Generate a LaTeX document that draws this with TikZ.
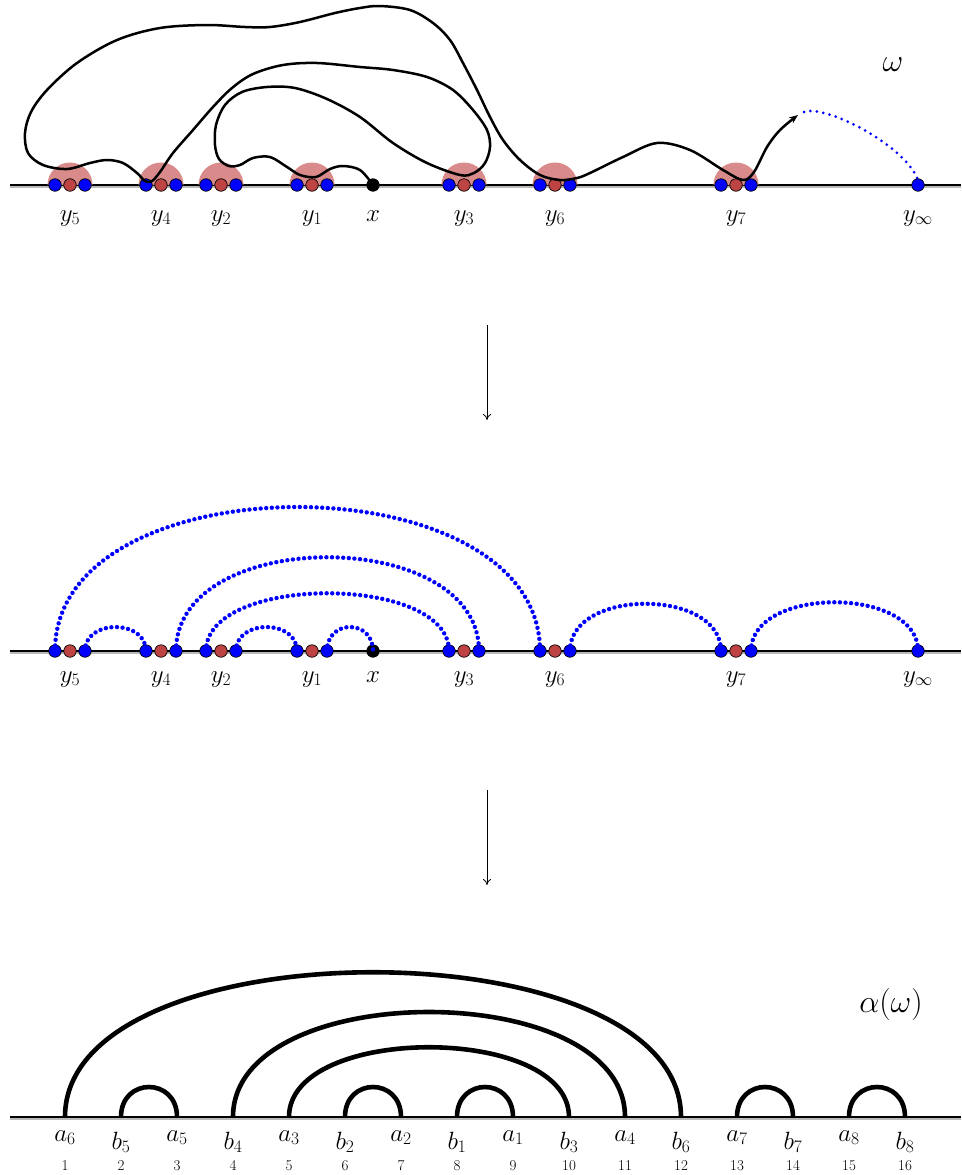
\RequirePackage{fix-cm}
\documentclass[tikz,border=0pt]{standalone}
\usetikzlibrary{arrows.meta}
\definecolor{dotred}{RGB}{190,68,68}
\definecolor{halo}{RGB}{217,139,139}
\definecolor{shadowgray}{RGB}{185,185,185}
\begin{document}
\begin{tikzpicture}[x=1pt,y=-1pt,
  bdot/.style={circle,draw=black,line width=0.7pt,fill=blue,inner sep=0pt,minimum size=12.5pt},
  rdot/.style={bdot,fill=dotred},
  kdot/.style={bdot,fill=black},
  lbl/.style={anchor=base,inner sep=0pt,font=\fontsize{25}{30}\selectfont},
  numlbl/.style={anchor=base,inner sep=0pt,font=\fontsize{15}{18}\selectfont},
  biglbl/.style={anchor=base,inner sep=0pt,font=\fontsize{32}{38}\selectfont},
  bluedots/.style={blue,line width=4.4pt,line cap=round,dash pattern=on 0pt off 5.6pt},
  taildots/.style={blue,line width=3pt,line cap=round,dash pattern=on 0pt off 6.5pt},
  curvepath/.style={line width=2.5pt,line join=round},
  chord/.style={line width=4.6pt},
  flowarrow/.style={line width=0.8pt,-{To[length=6pt,width=8pt]}}]
\useasboundingbox (0,0) rectangle (961,1175);

% ---------- baselines ----------
\foreach \yy in {185,651,1117}{
  \draw[shadowgray,line width=2.8pt] (10,\yy+1.5) -- (961,\yy+1.5);
  \draw[line width=1.1pt] (10,\yy) -- (961,\yy);
}

% ---------- top section ----------
\foreach \k/\px in {5/70,4/161,2/221,1/312,3/464,6/555,7/736}{
  \fill[halo] (\px-22.5,185) arc[start angle=180,end angle=360,radius=22.5];
}
\draw[taildots] (804,112) .. controls (825,104) and (905,145) .. (918,180);
\foreach \k/\px in {5/70,4/161,2/221,1/312,3/464,6/555,7/736}{
  \node[bdot] (tL\k) at (\px-15,185) {};
  \node[rdot] (tM\k) at (\px,185) {};
  \node[bdot] (tR\k) at (\px+15,185) {};
  \node[lbl] (ty\k) at (\px,221) {$y_{\k}$};
}
\node[kdot] (tx) at (373,185) {};
\node[lbl] (txl) at (373,221) {$x$};
\node[bdot] (tinf) at (918,185) {};
\node[lbl] (tinfl) at (918,221) {$y_\infty$};
\node[biglbl] (omega) at (893,71) {$\omega$};

\draw[curvepath,-{Stealth[length=9pt,width=7pt]}] plot[smooth,tension=0.55] coordinates {
 (373,185) (360,170) (343,166) (330,169) (316,177) (300,175) (287,167) (270,157)
 (253,158) (240,165) (229,166) (219,159) (215,145) (216,125) (225,105) (242,92)
 (267,87) (295,88) (327,99) (360,117) (393,143) (427,163) (460,175) (474,173)
 (485,163) (490,147) (487,130) (473,110) (453,90) (427,77) (393,70) (360,67)
 (317,63) (283,65) (253,74) (232,88) (213,107) (193,130) (173,153) (160,172)
 (152,181) (145,181) (137,173) (123,163) (107,160) (90,163) (67,169) (43,165)
 (28,153) (25,133) (31,112) (47,90) (77,63) (117,40) (160,28) (207,25)
 (245,27) (270,27) (300,22) (335,13) (360,8) (380,6) (410,10) (433,23)
 (450,40) (463,63) (477,90) (490,117) (503,140) (520,160) (540,175) (560,180)
 (577,178) (590,173) (623,157) (657,143) (690,150) (723,170) (743,180) (754,172)
 (767,147) (780,130) (798,115)};

\draw[flowarrow] (487,325) coordinate (a1s) -- (487,420) coordinate (a1e);

% ---------- middle section ----------
\foreach \k/\px in {5/70,4/161,2/221,1/312,3/464,6/555,7/736}{
  \node[bdot] (mL\k) at (\px-15,651) {};
  \node[rdot] (mM\k) at (\px,651) {};
  \node[bdot] (mR\k) at (\px+15,651) {};
  \node[lbl] (my\k) at (\px,682) {$y_{\k}$};
}
\node[kdot] (mx) at (373,651) {};
\node[lbl] (mxl) at (373,682) {$x$};
\node[bdot] (minf) at (918,651) {};
\node[lbl] (minfl) at (918,682) {$y_\infty$};

\draw[bluedots] (mL5.center) .. controls +(0,-192) and +(0,-192) .. (mL6.center);
\draw[bluedots] (mR5.center) .. controls +(0,-32) and +(0,-32) .. (mL4.center);
\draw[bluedots] (mR4.center) .. controls +(0,-125) and +(0,-125) .. (mR3.center);
\draw[bluedots] (mL2.center) .. controls +(0,-77) and +(0,-77) .. (mL3.center);
\draw[bluedots] (mR2.center) .. controls +(0,-32) and +(0,-32) .. (mL1.center);
\draw[bluedots] (mR1.center) .. controls +(0,-32) and +(0,-32) .. (mx.center);
\draw[bluedots] (mR6.center) .. controls +(0,-63) and +(0,-63) .. (mL7.center);
\draw[bluedots] (mR7.center) .. controls +(0,-65) and +(0,-65) .. (minf.center);

\draw[flowarrow] (487,790) coordinate (a2s) -- (487,885) coordinate (a2e);

% ---------- bottom section ----------
\foreach \i in {1,...,16}{
  \coordinate (p\i) at ({65+56*(\i-1)},1117);
  \node[numlbl] (n\i) at ({65+56*(\i-1)},1170) {\i};
}
\foreach \i/\s in {1/6,3/5,5/3,7/2,9/1,11/4,13/7,15/8}{
  \node[lbl] (l\i) at ({65+56*(\i-1)},1141) {$a_{\s}$};
}
\foreach \i/\s in {2/5,4/4,6/2,8/1,10/3,12/6,14/7,16/8}{
  \node[lbl] (l\i) at ({65+56*(\i-1)},1149) {$b_{\s}$};
}
\draw[chord] (p1) .. controls +(0,-193) and +(0,-193) .. (p12);
\draw[chord] (p4) .. controls +(0,-140) and +(0,-140) .. (p11);
\draw[chord] (p5) .. controls +(0,-93) and +(0,-93) .. (p10);
\foreach \a/\b in {2/3,6/7,8/9,13/14,15/16}{
  \draw[chord] (p\a) .. controls +(0,-40) and +(0,-40) .. (p\b);
}
\node[biglbl] (alpha) at (891,1012) {$\alpha(\omega)$};
\end{tikzpicture}
\end{document}
